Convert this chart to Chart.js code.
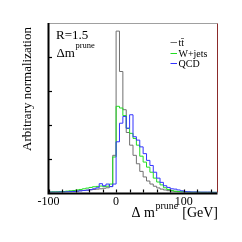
<!DOCTYPE html>
<html><head><meta charset="utf-8">
<script src="https://cdn.jsdelivr.net/npm/chart.js@4.4.0/dist/chart.umd.min.js"></script>
<style>html,body{margin:0;padding:0;background:#fff;overflow:hidden}canvas{display:block}</style>
</head><body>
<canvas id="c" width="242" height="242"></canvas>
<script>
// Bin lower edges (GeV), 5 GeV bins
const binEdges = [-100,-95,-90,-85,-80,-75,-70,-65,-60,-55,-50,-45,-40,-35,-30,-25,-20,-15,-10,-5,
  0,5,10,15,20,25,30,35,40,45,50,55,60,65,70,75,80,85,90,95,100,105,110,115,120,125,130,135,140,145];
const binUpper = 150;
const ttbar = [0.002,0.002,0.003,0.003,0.004,0.005,0.006,0.007,0.008,0.010,0.012,0.014,0.016,0.018,0.020,0.022,0.025,0.028,0.035,0.22,
  0.955,0.716,0.49,0.355,0.28,0.22,0.17,0.125,0.092,0.068,0.05,0.037,0.027,0.02,0.015,0.011,0.008,0.006,0.004,0.003,
  0.002,0.002,0.001,0.001,0.001,0.001,0.001,0.001,0.0,0.0];
const wjets = [0.003,0.004,0.004,0.005,0.006,0.008,0.010,0.012,0.015,0.018,0.022,0.026,0.030,0.034,0.036,0.038,0.035,0.037,0.05,0.21,
  0.51,0.50,0.455,0.38,0.35,0.32,0.28,0.215,0.18,0.15,0.12,0.085,0.062,0.045,0.028,0.018,0.012,0.008,0.006,0.005,
  0.004,0.003,0.002,0.002,0.002,0.001,0.001,0.001,0.001,0.001];
const qcd = [0.002,0.002,0.002,0.003,0.003,0.004,0.005,0.006,0.008,0.010,0.012,0.014,0.017,0.022,0.028,0.052,0.04,0.05,0.035,0.05,
  0.30,0.41,0.45,0.38,0.46,0.33,0.31,0.27,0.23,0.19,0.16,0.12,0.085,0.06,0.04,0.03,0.022,0.02,0.015,0.01,
  0.005,0.004,0.003,0.003,0.002,0.002,0.002,0.002,0.001,0.001];
const seriesNames = ['tt\u0304', 'W+jets', 'QCD'];
const seriesColors = ['#707070', '#22dd22', '#3333ff'];
const xTicks = [-100,-80,-60,-40,-20,0,20,40,60,80,100,120,140];
const xTickLabelValues = [-100, 0, 100];
const xTickLabels = ['-100', '0', '100'];
const yTicks = [0.2, 0.4, 0.6, 0.8];

function steps(vals){
  const pts = binEdges.map((e,i)=>({x:e, y:vals[i]}));
  pts.push({x:binUpper, y:vals[vals.length-1]});
  return pts;
}

const SERIF = "'Liberation Serif', 'Times New Roman', serif";

const deco = {
  id:'deco',
  afterDatasetsDraw(chart){
    const ctx = chart.ctx, a = chart.chartArea;
    const xs = chart.scales.x, ys = chart.scales.y;
    ctx.save();
    // frame
    ctx.lineWidth = 1;
    ctx.strokeStyle = '#a0a0a0';
    ctx.beginPath(); ctx.moveTo(a.left, a.top); ctx.lineTo(a.right, a.top); ctx.stroke();
    ctx.strokeStyle = '#8b2a2a';
    ctx.beginPath(); ctx.moveTo(a.right, a.top); ctx.lineTo(a.right, a.bottom); ctx.stroke();
    ctx.strokeStyle = '#000';
    ctx.lineWidth = 2;
    ctx.beginPath(); ctx.moveTo(a.left, a.top-0.5); ctx.lineTo(a.left, a.bottom+1); ctx.lineTo(a.right, a.bottom+1); ctx.stroke();
    // ticks
    ctx.lineWidth = 1.2;
    xTicks.forEach(v=>{
      const px = Math.round(xs.getPixelForValue(v))+0.5;
      ctx.beginPath(); ctx.moveTo(px, a.bottom); ctx.lineTo(px, a.bottom-3); ctx.stroke();
    });
    yTicks.forEach(v=>{
      const py = Math.round(ys.getPixelForValue(v))+0.5;
      ctx.beginPath(); ctx.moveTo(a.left, py); ctx.lineTo(a.left+3.5, py); ctx.stroke();
    });
    // tick labels
    ctx.fillStyle = '#000';
    ctx.font = '12px ' + SERIF;
    ctx.textAlign = 'center'; ctx.textBaseline = 'alphabetic';
    xTickLabelValues.forEach((v,i)=>{
      ctx.fillText(xTickLabels[i], xs.getPixelForValue(v), 204.5);
    });
    // x title: Δ m^prune [GeV], right aligned
    ctx.textAlign = 'left';
    const f1 = '14px ' + SERIF, f2 = '10px ' + SERIF;
    ctx.font = f1; const w1 = ctx.measureText('\u0394 m').width;
    ctx.font = f2; const w2 = ctx.measureText('prune').width;
    ctx.font = f1; const w3 = ctx.measureText(' [GeV]').width;
    let x0 = 218 - (w1 + w2 + 1 + w3);
    ctx.font = f1; ctx.fillText('\u0394 m', x0, 217);
    ctx.font = f2; ctx.fillText('prune', x0 + w1 + 0.5, 209);
    ctx.font = f1; ctx.fillText(' [GeV]', x0 + w1 + w2 + 1, 217);
    // y title
    ctx.save();
    ctx.translate(31, 89);
    ctx.rotate(-Math.PI/2);
    ctx.font = '13px ' + SERIF;
    ctx.textAlign = 'center';
    ctx.fillText('Arbitrary normalization', 0, 0);
    ctx.restore();
    // annotations
    ctx.textAlign = 'left';
    ctx.font = '13px ' + SERIF;
    ctx.fillText('R=1.5', 56, 38.5);
    ctx.fillText('\u0394m', 56.5, 56.5);
    const wdm = ctx.measureText('\u0394m').width;
    ctx.font = '8.5px ' + SERIF;
    ctx.fillText('prune', 56.5 + wdm + 0.5, 48);
    // legend
    const ly = [42.5, 53.5, 63.5];
    ctx.font = '10px ' + SERIF;
    ctx.textBaseline = 'middle';
    seriesNames.forEach((n,i)=>{
      ctx.strokeStyle = seriesColors[i]; ctx.lineWidth = 1;
      ctx.beginPath(); ctx.moveTo(170.5, ly[i]); ctx.lineTo(177, ly[i]); ctx.stroke();
      ctx.fillStyle = '#000';
      ctx.fillText(n, 178.5, ly[i] + 0.5);
    });
    ctx.restore();
  }
};

new Chart(document.getElementById('c'), {
  type: 'line',
  data: {
    datasets: [
      {label: seriesNames[2], data: steps(qcd), borderColor: seriesColors[2], order: 0},
      {label: seriesNames[1], data: steps(wjets), borderColor: seriesColors[1], order: 1},
      {label: seriesNames[0], data: steps(ttbar), borderColor: seriesColors[0], order: 2}
    ].map(d=>Object.assign(d, {stepped:'before', borderWidth:1, pointRadius:0, fill:false, tension:0}))
  },
  options: {
    responsive: false, animation: false, devicePixelRatio: 1,
    layout: {padding: {left: 48.5, top: 23.5, right: 24.5, bottom: 49.5}},
    plugins: {legend: {display:false}, tooltip: {enabled:false}},
    scales: {
      x: {type:'linear', min:-100, max:150, display:false},
      y: {type:'linear', min:0, max:1, display:false}
    }
  },
  plugins: [deco]
});
</script>
</body></html>
